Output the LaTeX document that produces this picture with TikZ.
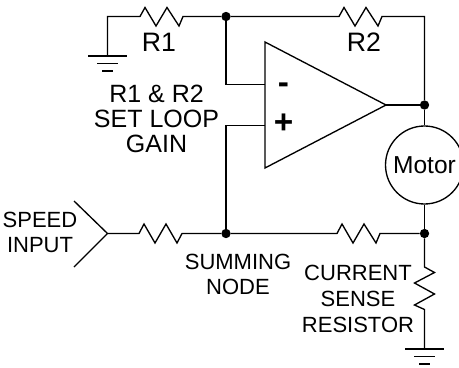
\documentclass[tikz,border=0pt]{standalone}
\usepackage{fontspec}
\setmainfont{Liberation Sans}
\tikzset{
  wire/.style={line width=1pt,line join=miter},
  dot/.style={circle,fill=black,inner sep=0pt,minimum size=7pt},
  label/.style={inner sep=0pt,align=center,font=\fontsize{16.5}{18.75}\selectfont},
  biglabel/.style={inner sep=0pt,align=center,font=\fontsize{18.75}{18.75}\selectfont},
  rlabel/.style={inner sep=0pt,font=\fontsize{20}{20}\selectfont},
  sign/.style={inner sep=0pt,font=\fontsize{25}{25}\selectfont\bfseries},
  motor/.style={draw,circle,line width=1pt,inner sep=0pt,minimum size=58.5pt,font=\fontsize{18.4}{18.75}\selectfont}
}
\begin{document}
\begin{tikzpicture}[x=0.75pt,y=-0.75pt]
  \useasboundingbox (0,0) rectangle (459,367);
  \draw (226,16.5) node[dot] (top) {}
   (226,233.5) node[dot] (sum) {}
   (424.5,105) node[dot] (out) {}
   (424.5,233.5) node[dot] (sense) {}
   (424.5,165) node[motor] (m) {Motor};
  \coordinate (amp1) at (265,42);
  \coordinate (amp2) at (265,168);
  \coordinate (amp3) at (386,105);
  \coordinate (minus) at (265,84.5);
  \coordinate (plus) at (265,125.5);
  \coordinate (gnd1) at (107.5,56);
  \coordinate (gnd2) at (424.5,349);
  \coordinate (input) at (107.5,233.5);

  % op amp
  \draw[wire] (amp1) -- (amp2) -- (amp3) -- cycle;
  \draw[wire] (top) |- (minus);
  \draw[wire] (sum) |- (plus);
  \draw[wire] (amp3) -- (out);
  \draw[wire] (out) -- (m);
  \draw[wire] (m) -- (sense);

  % R1 and R2
  \draw[wire] (gnd1) |- (140,16.5) -- ++(5,-9) -- ++(11,18.5) -- ++(11,-18.5)
    -- ++(12,18.5) -- ++(4,-9.5) -- (top);
  \draw[wire] (top) -- (339,16.5) -- ++(5,-9) -- ++(11,18.5) -- ++(11,-18.5)
    -- ++(12,18.5) -- ++(4,-9.5) -| (out);

  % input and feedback resistors
  \draw[wire] (74,201) -- (input) -- (74,267);
  \draw[wire] (input) -- (139,233.5) -- ++(5,-9.5) -- ++(11,19) -- ++(11,-19)
    -- ++(11,19) -- ++(5,-9.5) -- (sum);
  \draw[wire] (sum) -- (337,233.5) -- ++(5,-9.5) -- ++(11,19) -- ++(11,-19)
    -- ++(12,19) -- ++(4,-9.5) -- (sense);

  % sense resistor
  \draw[wire] (sense) -- (424.5,267) -- ++(10,5.5) -- ++(-20,10.5) -- ++(20,11)
    -- ++(-20,11) -- ++(10,4.5) -- (gnd2);

  % grounds
  \draw[wire] (88,56) -- (127,56) (97,63.5) -- (118,63.5) (102,71) -- (113,71);
  \draw[wire] (405,349) -- (444,349) (414,356.5) -- (435,356.5) (419,364) -- (430,364);

  \draw (159,42) node[rlabel] (r1) {R1}
   (364,42) node[rlabel] (r2) {R2}
   (156.5,118.5) node[biglabel] (gain) {R1 \& R2\\SET LOOP\\GAIN}
   (40,232.5) node[label] (speed) {SPEED\\INPUT}
   (238,274) node[label] (node) {SUMMING\\NODE}
   (358,299) node[label] (current) {CURRENT\\[0.75pt]SENSE\\[0.75pt]RESISTOR}
   (283.5,88) node[sign] (neg) {-}
   (283.5,124) node[sign] (pos) {+};
\end{tikzpicture}
\end{document}
